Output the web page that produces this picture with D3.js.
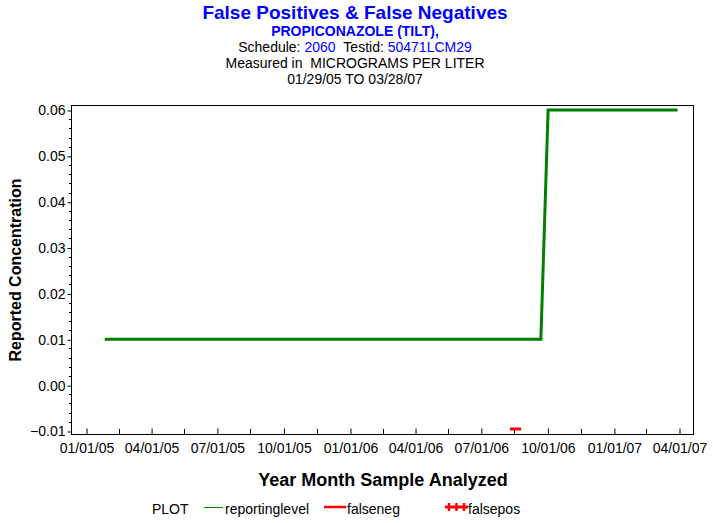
<!DOCTYPE html>
<html>
<head>
<meta charset="utf-8">
<script src="https://cdn.jsdelivr.net/npm/d3@7"></script>
<style>
  html, body { margin: 0; padding: 0; background: #fff; }
  svg { display: block; font-family: "Liberation Sans", Arial, sans-serif; }
</style>
</head>
<body>
<svg id="chart" width="713" height="523"></svg>
<script>
// ---- data ----
const reportDates  = ["2005-01-29", "2006-09-22", "2006-10-02", "2007-03-28"];
const reportValues = [0.01, 0.01, 0.06, 0.06];
const falseNegDates  = ["2006-08-18"];
const falseNegValues = [-0.01];
const xTickLabels = ["01/01/05","04/01/05","07/01/05","10/01/05","01/01/06","04/01/06","07/01/06","10/01/06","01/01/07","04/01/07"];
const yTickValues = [-0.01, 0.00, 0.01, 0.02, 0.03, 0.04, 0.05, 0.06];
const titleLines = ["False Positives & False Negatives", "PROPICONAZOLE (TILT),"];
const scheduleId = "2060";
const testId = "50471LCM29";
const unitsLine = "Measured in  MICROGRAMS PER LITER";
const rangeLine = "01/29/05 TO 03/28/07";
const legendItems = ["reportinglevel", "falseneg", "falsepos"];

// ---- layout ----
const svg = d3.select("#chart");
const frame = {left: 71, top: 105, right: 693, bottom: 434};
const parse = d3.timeParse("%Y-%m-%d");
const fmt = d3.timeFormat("%m/%d/%y");
const parseTick = d3.timeParse("%m/%d/%y");
const xTicks = xTickLabels.map(parseTick);

const x = d3.scaleTime()
  .domain([xTicks[0], xTicks[xTicks.length - 1]])
  .range([86, 679]);
const y = d3.scaleLinear().domain([-0.01, 0.06]).range([431, 110]);

const blue = "#0000ff";
const green = "#008000";
const red = "#ff0000";

// ---- titles ----
const cx = 355;
svg.append("text").attr("x", cx).attr("y", 19).attr("text-anchor", "middle")
  .attr("font-size", 19).attr("font-weight", "bold").attr("fill", blue).text(titleLines[0]);
svg.append("text").attr("x", cx).attr("y", 35.5).attr("text-anchor", "middle")
  .attr("font-size", 14).attr("font-weight", "bold").attr("fill", blue).text(titleLines[1]);
const l3 = svg.append("text").attr("x", cx).attr("y", 52).attr("text-anchor", "middle")
  .attr("font-size", 14).attr("fill", "#000");
l3.append("tspan").text("Schedule: ");
l3.append("tspan").attr("fill", blue).text(scheduleId);
l3.append("tspan").text("\u00a0\u00a0Testid: ");
l3.append("tspan").attr("fill", blue).text(testId);
svg.append("text").attr("x", cx).attr("y", 68).attr("text-anchor", "middle")
  .attr("font-size", 14).attr("fill", "#000").text(unitsLine.replace(/  /g, "\u00a0 "));
svg.append("text").attr("x", cx).attr("y", 84).attr("text-anchor", "middle")
  .attr("font-size", 14).attr("fill", "#000").text(rangeLine);

// ---- frame ----
svg.append("rect")
  .attr("x", frame.left + 0.5).attr("y", frame.top + 0.5)
  .attr("width", frame.right - frame.left).attr("height", frame.bottom - frame.top)
  .attr("fill", "none").attr("stroke", "#000").attr("stroke-width", 1);

// ---- x axis ----
const xAxis = d3.axisBottom(x).tickValues(xTicks).tickFormat(fmt)
  .tickSizeInner(-6).tickSizeOuter(0).tickPadding(9);
const gx = svg.append("g").attr("transform", `translate(0.5,${frame.bottom + 0.5})`).call(xAxis);
gx.select(".domain").remove();
gx.selectAll("text").attr("font-size", 14).attr("fill", "#000").attr("font-family", "Liberation Sans, Arial, sans-serif");
gx.selectAll("line").attr("stroke", "#000");
// minor x ticks at mid-quarter
const xMinor = d3.pairs(xTicks).map(([a, b]) => new Date((+a + +b) / 2));
svg.append("g").selectAll("line").data(xMinor).join("line")
  .attr("x1", d => Math.round(x(d)) + 0.5).attr("x2", d => Math.round(x(d)) + 0.5)
  .attr("y1", frame.bottom).attr("y2", frame.bottom - 5)
  .attr("stroke", "#000");

// ---- y axis ----
const yAxis = d3.axisLeft(y).tickValues(yTickValues).tickFormat(d3.format(".2f"))
  .tickSizeInner(4).tickSizeOuter(0).tickPadding(2);
const gy = svg.append("g").attr("transform", `translate(${frame.left + 0.5},0.5)`).call(yAxis);
gy.select(".domain").remove();
gy.selectAll("text").attr("font-size", 14).attr("fill", "#000").attr("font-family", "Liberation Sans, Arial, sans-serif");
gy.selectAll("line").attr("stroke", "#000");
const yMinor = d3.range(-0.01, 0.0601, 0.002).filter(v => Math.abs(Math.round(v * 100) - v * 100) > 1e-6);
svg.append("g").selectAll("line").data(yMinor).join("line")
  .attr("x1", frame.left).attr("x2", frame.left - 2)
  .attr("y1", d => Math.round(y(d)) + 0.5).attr("y2", d => Math.round(y(d)) + 0.5)
  .attr("stroke", "#000");

// ---- axis titles ----
svg.append("text").attr("transform", "translate(21,270) rotate(-90)")
  .attr("text-anchor", "middle").attr("font-size", 16).attr("font-weight", "bold")
  .text("Reported Concentration");
svg.append("text").attr("x", 383).attr("y", 486).attr("text-anchor", "middle")
  .attr("font-size", 18).attr("font-weight", "bold")
  .text("Year Month Sample Analyzed");

// ---- reporting level line ----
const rep = reportDates.map((d, i) => ({date: parse(d), value: reportValues[i]}));
svg.append("path").datum(rep)
  .attr("fill", "none").attr("stroke", green).attr("stroke-width", 3)
  .attr("stroke-linecap", "square")
  .attr("d", d3.line().x(d => x(d.date)).y(d => y(d.value)));

// ---- false negatives ----
const fn = falseNegDates.map((d, i) => ({date: parse(d), value: falseNegValues[i]}));
svg.append("g").selectAll("rect").data(fn).join("rect")
  .attr("x", d => x(d.date) - 5.5).attr("y", d => y(d.value) - 3.5)
  .attr("width", 11).attr("height", 3).attr("fill", red);

// ---- legend ----
const lg = svg.append("g").attr("font-size", 14);
lg.append("text").attr("x", 152).attr("y", 514).text("PLOT");
lg.append("line").attr("x1", 204).attr("x2", 223).attr("y1", 507.5).attr("y2", 507.5)
  .attr("stroke", green).attr("stroke-width", 1);
lg.append("text").attr("x", 225).attr("y", 514).text(legendItems[0]);
lg.append("line").attr("x1", 324).attr("x2", 346).attr("y1", 507).attr("y2", 507)
  .attr("stroke", red).attr("stroke-width", 2.5);
lg.append("text").attr("x", 347).attr("y", 514).text(legendItems[1]);
lg.append("line").attr("x1", 445).attr("x2", 468).attr("y1", 507).attr("y2", 507)
  .attr("stroke", red).attr("stroke-width", 3);
[449, 456.5, 464].forEach(px => {
  lg.append("line").attr("x1", px).attr("x2", px).attr("y1", 503).attr("y2", 511)
    .attr("stroke", red).attr("stroke-width", 2.5);
});
lg.append("text").attr("x", 468).attr("y", 514).text(legendItems[2]);
</script>
</body>
</html>
